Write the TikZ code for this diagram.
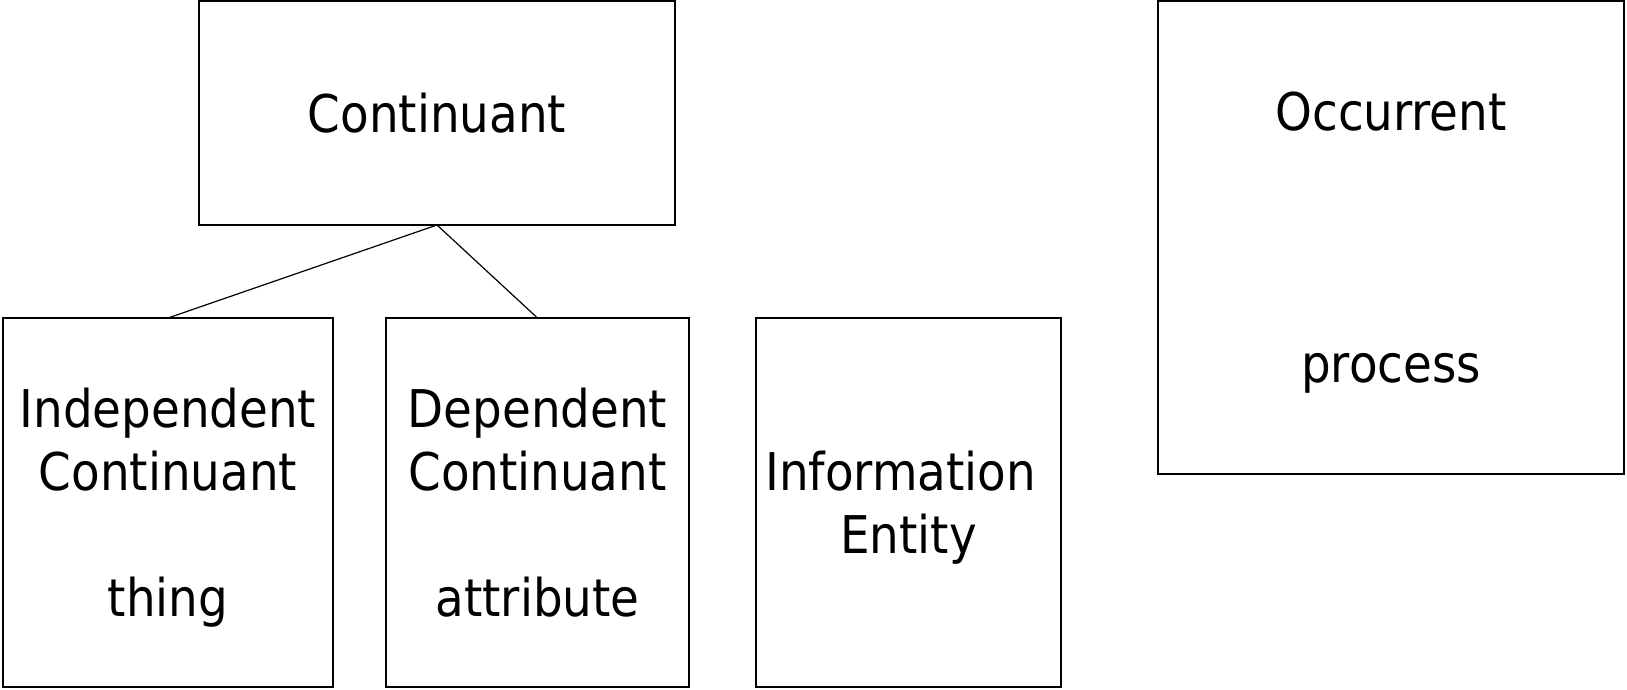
\documentclass[tikz,border=0pt]{standalone}
\usepackage{fontspec}
\setmainfont{DejaVu Sans Condensed}
\usetikzlibrary{positioning}
\tikzset{
  align=center,
  category/.style={draw=black, line width=0.7pt, rectangle, inner sep=0pt, outer sep=0pt,
    text depth=0pt, font=\fontsize{26}{31.5}\selectfont},
  isa/.style={draw=black, line width=0.6pt}
}

\begin{document}
\begin{tikzpicture}[x=0.5pt, y=-0.5pt]
  \useasboundingbox (0,0) rectangle (1627,690);

  \node[category, minimum width=238pt, minimum height=112pt] (cont) at (437,113) {Continuant};
  \node[category, minimum width=233pt, minimum height=236.5pt] (occ) at (1391,237.5) {Occurrent\\ \\ \\ \\ process};

  \node[category, minimum width=165pt, minimum height=184.5pt] (indep) at (168,502.5) {Independent\\Continuant\\ \\thing};
  \node[category, minimum width=151.5pt, minimum height=184.5pt] (dep) at (537.5,502.5) {Dependent\\Continuant\\ \\attribute};
  \node[category, minimum width=152.5pt, minimum height=184.5pt] (info) at (908.5,502.5) {Information\hspace*{0.3em}\\Entity};

  %
  \draw[isa] (cont.south) -- (indep.north);
  \draw[isa] (cont.south) -- (dep.north);
\end{tikzpicture}
\end{document}
